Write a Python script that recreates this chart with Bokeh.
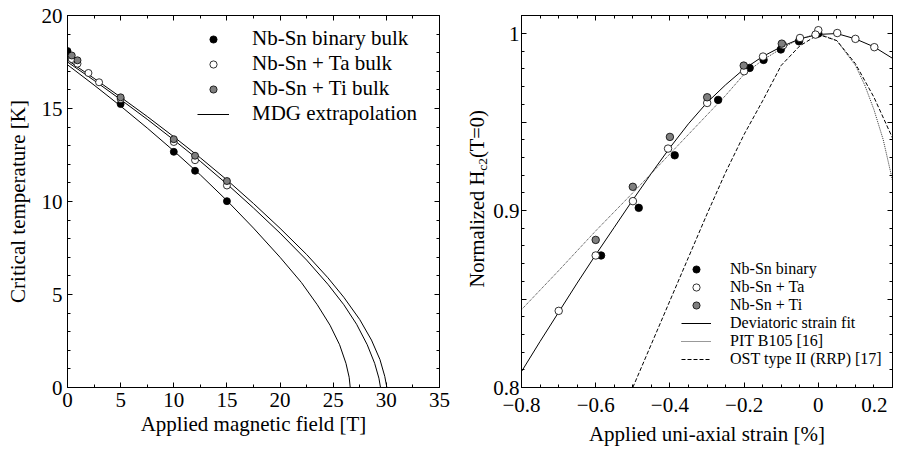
from math import pi
from bokeh.plotting import figure
from bokeh.models import (Range1d, LinearAxis, FixedTicker, Legend, LegendItem, Label,
                          CustomLabelingPolicy)
from bokeh.layouts import row
from bokeh.embed import file_html
from bokeh.resources import INLINE

FONT = "Liberation Serif"

# ---------------- left panel: Tc(B) ----------------
field_binary = [0, 5, 10, 12, 15]
tc_binary = [18.09, 15.24, 12.67, 11.65, 10.02]
field_ta = [0.4, 0.94, 1.97, 2.97, 5, 10, 12, 15]
tc_ta = [17.66, 17.41, 16.91, 16.41, 15.51, 13.2, 12.22, 10.86]
field_ti = [0.4, 0.94, 5, 10, 12, 15]
tc_ti = [17.85, 17.59, 15.6, 13.35, 12.46, 11.1]

mdg_b_binary = [0, 2.5, 5, 7.5, 10, 12.5, 15, 17.5, 20, 22, 23.5, 24.7, 25.6, 26.2, 26.5, 26.6]
mdg_t_binary = [17.35, 16.26, 15.13, 13.95, 12.72, 11.43, 10.05, 8.57, 7.0, 5.65, 4.45, 3.35, 2.3, 1.3, 0.55, 0]
mdg_b_ta = [0, 2.5, 5, 7.5, 10, 12.5, 15, 17.5, 20, 22.5, 24.5, 26, 27.2, 28.2, 28.9, 29.3, 29.45]
mdg_t_ta = [17.5, 16.51, 15.48, 14.42, 13.31, 12.16, 10.94, 9.65, 8.3, 6.85, 5.55, 4.45, 3.4, 2.3, 1.3, 0.5, 0]
mdg_b_ti = [0, 2.5, 5, 7.5, 10, 12.5, 15, 17.5, 20, 22.5, 24.5, 26, 27.5, 28.6, 29.4, 29.85, 30.05]
mdg_t_ti = [17.6, 16.62, 15.61, 14.57, 13.48, 12.35, 11.16, 9.89, 8.56, 7.15, 5.9, 4.85, 3.65, 2.55, 1.5, 0.6, 0]

left_xticks = [0, 5, 10, 15, 20, 25, 30, 35]
left_xminor = [2.5, 7.5, 12.5, 17.5, 22.5, 27.5, 32.5]
left_yticks = [0, 5, 10, 15, 20]
left_yminor = [v for v in range(0, 21) if v % 5 != 0]

# ---------------- right panel: normalised Hc2 vs strain ----------------
strain_binary = [0.0, -0.052, -0.101, -0.1475, -0.185, -0.27, -0.387, -0.484, -0.5855]
hc2_binary = [1.0, 0.9956, 0.991, 0.9851, 0.9806, 0.9625, 0.9312, 0.9015, 0.8746]
strain_ta = [0.0, -0.0075, 0.051, 0.1, 0.151, -0.0493, -0.095, -0.149, -0.2, -0.2995, -0.405, -0.4997, -0.6, -0.6997]
hc2_ta = [1.0019, 0.9994, 1.0003, 0.997, 0.9923, 0.9975, 0.9934, 0.987, 0.9787, 0.9608, 0.935, 0.9053, 0.8746, 0.8433]
strain_ti = [-0.0984, -0.201, -0.2995, -0.4, -0.5, -0.6]
hc2_ti = [0.9943, 0.9819, 0.964, 0.9416, 0.9134, 0.8834]

fit_strain = [-0.8, -0.75, -0.7, -0.65, -0.6, -0.55, -0.5, -0.45, -0.4, -0.35, -0.3, -0.25,
              -0.2, -0.15, -0.1, -0.05, 0.0, 0.05, 0.1, 0.15, 0.2]
fit_hc2 = [0.809, 0.826, 0.8425, 0.859, 0.875, 0.8905, 0.906, 0.921, 0.9355, 0.949, 0.961, 0.971,
           0.980, 0.987, 0.9925, 0.997, 0.9995, 1.0, 0.997, 0.9925, 0.986]
pit_strain = [-0.8, -0.7, -0.6, -0.5, -0.4, -0.3, -0.25, -0.2, -0.15, -0.1, -0.05, 0.0,
              0.05, 0.1, 0.125, 0.15, 0.175, 0.2]
pit_hc2 = [0.844, 0.866, 0.8885, 0.910, 0.932, 0.954, 0.965, 0.977, 0.985, 0.9915, 0.997, 1.0,
           0.996, 0.982, 0.971, 0.957, 0.940, 0.917]
ost_strain = [-0.5, -0.45, -0.4, -0.35, -0.3, -0.25, -0.2, -0.15, -0.1, -0.05, 0.0, 0.05, 0.1, 0.15, 0.2]
ost_hc2 = [0.8, 0.8245, 0.849, 0.8735, 0.898, 0.9215, 0.943, 0.962, 0.982, 0.993, 0.9995,
           0.996, 0.983, 0.964, 0.941]

right_xticks = [-0.8, -0.6, -0.4, -0.2, 0.0, 0.2]
right_xlabels = ["\u22120.8", "\u22120.6", "\u22120.4", "\u22120.2", "0",
                 "0.2\u00a0\u00a0\u00a0\u00a0"]
right_xminor = [-0.75, -0.7, -0.65, -0.55, -0.5, -0.45, -0.35, -0.3, -0.25,
                -0.15, -0.1, -0.05, 0.05, 0.1, 0.15]
right_yticks = [0.8, 0.85, 0.9, 0.95, 1.0]
right_ylabels = ["0.8", "", "0.9", "", "1"]
right_yminor = [0.81, 0.82, 0.83, 0.84, 0.86, 0.87, 0.88, 0.89, 0.91, 0.92, 0.93, 0.94,
                0.96, 0.97, 0.98, 0.99, 1.01]
right_ylabel_parts = ["Normalized H", "c2", "(T=0)"]

GRAY = "#7f7f7f"
NO_LABELS = "return new indices.constructor(indices.size, 0)"
H = 449
TOP, BOTTOM = 15, 62   # common vertical borders (the row aligns the frames)


def style_axis(ax, ticks, minor, show_labels=True, overrides=None, standoff=4):
    ax.ticker = FixedTicker(ticks=ticks, minor_ticks=minor)
    ax.axis_line_color = "black"
    ax.axis_line_width = 1
    ax.major_tick_in = 5
    ax.major_tick_out = 0
    ax.minor_tick_in = 3
    ax.minor_tick_out = 0
    ax.major_tick_line_color = "black"
    ax.minor_tick_line_color = "black"
    ax.major_label_text_font = FONT
    ax.major_label_text_color = "black"
    ax.axis_label_text_font = FONT
    ax.axis_label_text_font_style = "normal"
    ax.axis_label_text_font_size = "21px"
    ax.axis_label_text_color = "black"
    if show_labels:
        ax.major_label_text_font_size = "21px"
        ax.major_label_standoff = standoff
        if overrides:
            ax.major_label_overrides = overrides
    else:
        ax.major_label_text_font_size = "0px"
        ax.major_label_standoff = 0
        ax.major_label_policy = CustomLabelingPolicy(code=NO_LABELS)


def base_fig(width, xr, yr, mbl, mbr):
    p = figure(width=width, height=H, x_range=xr, y_range=yr,
               output_backend="svg", toolbar_location=None,
               min_border_left=mbl, min_border_right=mbr,
               min_border_top=TOP, min_border_bottom=BOTTOM)
    p.title.visible = False
    p.xgrid.visible = False
    p.ygrid.visible = False
    p.outline_line_color = "black"
    p.outline_line_width = 1
    p.background_fill_color = "white"
    p.border_fill_color = "white"
    return p


# ---------------- left figure ----------------
p1 = base_fig(462, Range1d(0, 35), Range1d(0, 20), 67, 23)
style_axis(p1.xaxis[0], left_xticks, left_xminor, standoff=5)
style_axis(p1.yaxis[0], left_yticks, left_yminor, standoff=5)
p1.xaxis[0].axis_label = "Applied magnetic field [T]"
p1.xaxis[0].axis_label_standoff = 2
p1.yaxis[0].axis_label = "Critical temperature [K]"
p1.yaxis[0].axis_label_standoff = 9
top1 = LinearAxis()
style_axis(top1, left_xticks, left_xminor, show_labels=False)
p1.add_layout(top1, "above")
right1 = LinearAxis()
style_axis(right1, left_yticks, left_yminor, show_labels=False)
p1.add_layout(right1, "right")

l_mdg = p1.line(mdg_b_binary, mdg_t_binary, line_color="black", line_width=1)
p1.line(mdg_b_ta, mdg_t_ta, line_color="black", line_width=1)
p1.line(mdg_b_ti, mdg_t_ti, line_color="black", line_width=1)
s_b = p1.scatter(field_binary, tc_binary, size=7, fill_color="black", line_color="black", line_width=0.8)
s_ta = p1.scatter(field_ta, tc_ta, size=7, fill_color="white", line_color="black", line_width=0.8)
s_ti = p1.scatter(field_ti, tc_ti, size=7, fill_color=GRAY, line_color="black", line_width=0.8)

leg1 = Legend(items=[LegendItem(label="Nb-Sn binary bulk", renderers=[s_b]),
                     LegendItem(label="Nb-Sn + Ta bulk", renderers=[s_ta]),
                     LegendItem(label="Nb-Sn + Ti bulk", renderers=[s_ti]),
                     LegendItem(label="MDG extrapolation", renderers=[l_mdg])],
              location=(130, 261), border_line_color=None, background_fill_alpha=0,
              padding=0, margin=0, spacing=0, glyph_width=32, glyph_height=18,
              label_height=23, label_standoff=23, label_text_font=FONT,
              label_text_font_size="21px", label_text_color="black")
p1.add_layout(leg1)

# ---------------- narrow strip holding the right y-axis title ----------------
strip_w = 28
strip_h = H - TOP - BOTTOM
ps = figure(width=strip_w, height=H, x_range=Range1d(0, strip_w), y_range=Range1d(0, strip_h),
            output_backend="svg", toolbar_location=None,
            x_axis_location=None, y_axis_location=None,
            min_border_left=0, min_border_right=0, min_border_top=TOP, min_border_bottom=BOTTOM)
ps.title.visible = False
ps.grid.visible = False
ps.outline_line_color = None
ps.background_fill_color = "white"
ps.border_fill_color = "white"
label_pos = [(14.5, 158.4, "20.5px"), (20.4, 223.1, "13.5px"), (14.5, 253.4, "20.5px")]
for txt, (lx, ly, fs) in zip(right_ylabel_parts, label_pos):
    ps.add_layout(Label(x=lx, y=ly, text=txt, angle=pi / 2,
                        text_align="center", text_baseline="middle", text_font=FONT,
                        text_font_size=fs, text_color="black"))

# ---------------- right figure ----------------
p2 = base_fig(908 - 462 - strip_w, Range1d(-0.8, 0.2), Range1d(0.8, 1.0102), 29, 16)
style_axis(p2.xaxis[0], right_xticks, right_xminor, standoff=5,
           overrides={t: s for t, s in zip(right_xticks, right_xlabels)})
style_axis(p2.yaxis[0], right_yticks, right_yminor, standoff=2,
           overrides={t: s for t, s in zip(right_yticks, right_ylabels)})
p2.xaxis[0].axis_label = "Applied uni-axial strain [%]"
p2.xaxis[0].axis_label_standoff = 2
top2 = LinearAxis()
style_axis(top2, right_xticks, right_xminor, show_labels=False)
p2.add_layout(top2, "above")
right2 = LinearAxis()
style_axis(right2, right_yticks, right_yminor, show_labels=False)
p2.add_layout(right2, "right")

l_fit = p2.line(fit_strain, fit_hc2, line_color="black", line_width=1)
l_pit = p2.line(pit_strain, pit_hc2, line_color="#333333", line_width=1, line_dash="1 1")
l_ost = p2.line(ost_strain, ost_hc2, line_color="black", line_width=1, line_dash="4 2")
r_b = p2.scatter(strain_binary, hc2_binary, size=7.5, fill_color="black", line_color="black", line_width=0.8)
r_ta = p2.scatter(strain_ta, hc2_ta, size=7.5, fill_color="white", line_color="black", line_width=0.8)
r_ti = p2.scatter(strain_ti, hc2_ti, size=7.5, fill_color=GRAY, line_color="black", line_width=0.8)

leg2 = Legend(items=[LegendItem(label="Nb-Sn binary", renderers=[r_b]),
                     LegendItem(label="Nb-Sn + Ta", renderers=[r_ta]),
                     LegendItem(label="Nb-Sn + Ti", renderers=[r_ti]),
                     LegendItem(label="Deviatoric strain fit", renderers=[l_fit]),
                     LegendItem(label="PIT B105 [16]", renderers=[l_pit]),
                     LegendItem(label="OST type II (RRP) [17]", renderers=[l_ost])],
              location=(160, 19), border_line_color=None, background_fill_alpha=0,
              padding=0, margin=0, spacing=0, glyph_width=30, glyph_height=18,
              label_height=18, label_standoff=19, label_text_font=FONT,
              label_text_font_size="16px", label_text_color="black")
p2.add_layout(leg2)

layout = row(p1, ps, p2)
open("out.html", "w").write(file_html(layout, INLINE))
